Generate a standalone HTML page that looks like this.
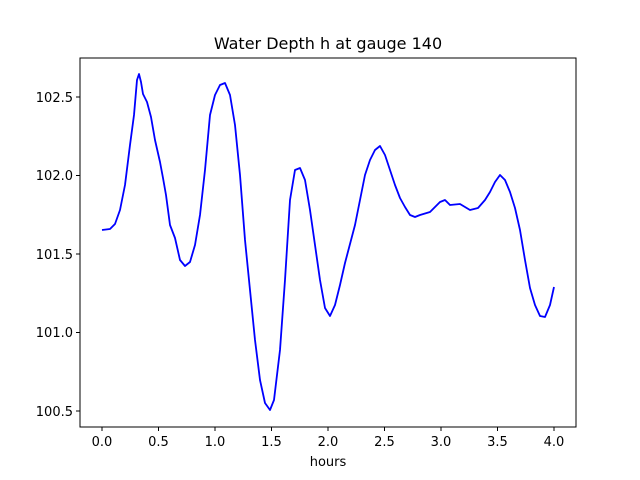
<!DOCTYPE html>
<html><head><meta charset="utf-8"><style>body{margin:0;background:#fff}svg{display:block}text{font-family:"DejaVu Sans","Liberation Sans",sans-serif;fill:#000}</style></head><body>
<svg width="640" height="480" viewBox="0 0 640 480" xmlns="http://www.w3.org/2000/svg">
<rect width="640" height="480" fill="#fff"/>
<text x="328" y="49" font-size="16" text-anchor="middle">Water Depth h at gauge 140</text>
<polyline fill="none" stroke="#0000ff" stroke-width="1.8" stroke-linejoin="round" points="102,230 110,229 115,224 120,210 125,185 130,145 134,115 137,80 139,74 141,82 143,94 147,102 151,117 155,140 160,162 163,178 166,195 170,225 175,238 180,260 185,266 190,262 195,245 200,215 205,170 210,115 215,95 220,85 225,83 230,95 235,125 240,175 245,240 250,290 255,340 260,380 265,403 270,410 274,400 280,350 285,280 290,200 295,170 300,168 305,180 310,210 315,245 320,280 325,308 330,316 335,305 340,285 345,263 350,244 355,225 360,200 365,175 370,160 375,150 380,146 385,155 390,170 395,185 400,198 405,207 410,215 415,217 420,215 430,212 440,202 445,200 450,205 460,204 470,210 478,208 485,200 490,192 495,182 500,175 505,180 510,192 515,208 520,230 525,260 530,288 535,305 540,316 545,317 550,305 554,287"/>
<rect x="80" y="58" width="496" height="369" fill="none" stroke="#000" stroke-width="1"/>
<g stroke="#000" stroke-width="1">
<line x1="102" y1="427" x2="102" y2="431"/><line x1="158.5" y1="427" x2="158.5" y2="431"/><line x1="215" y1="427" x2="215" y2="431"/><line x1="271.5" y1="427" x2="271.5" y2="431"/><line x1="328" y1="427" x2="328" y2="431"/><line x1="384.5" y1="427" x2="384.5" y2="431"/><line x1="441" y1="427" x2="441" y2="431"/><line x1="497.5" y1="427" x2="497.5" y2="431"/><line x1="554" y1="427" x2="554" y2="431"/>
<line x1="76" y1="97" x2="80" y2="97"/><line x1="76" y1="175.5" x2="80" y2="175.5"/><line x1="76" y1="254" x2="80" y2="254"/><line x1="76" y1="332.5" x2="80" y2="332.5"/><line x1="76" y1="411" x2="80" y2="411"/>
</g>
<g font-size="13" text-anchor="middle">
<text x="102" y="446">0.0</text><text x="158.5" y="446">0.5</text><text x="215" y="446">1.0</text><text x="271.5" y="446">1.5</text><text x="328" y="446">2.0</text><text x="384.5" y="446">2.5</text><text x="441" y="446">3.0</text><text x="497.5" y="446">3.5</text><text x="554" y="446">4.0</text>
<text x="328" y="466">hours</text>
</g>
<g font-size="13" text-anchor="end">
<text x="73" y="102">102.5</text><text x="73" y="180">102.0</text><text x="73" y="259">101.5</text><text x="73" y="337">101.0</text><text x="73" y="416">100.5</text>
</g>
</svg>
</body></html>
